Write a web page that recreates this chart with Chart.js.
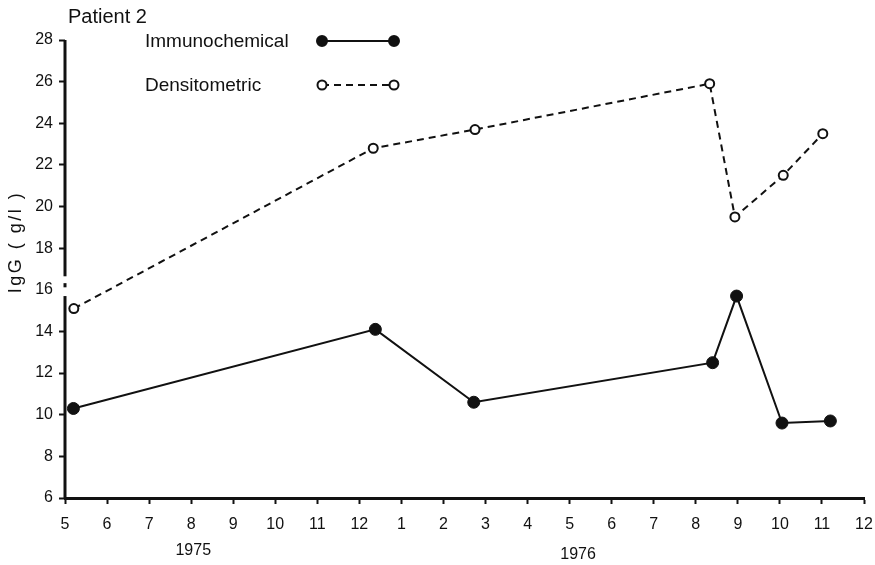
<!DOCTYPE html>
<html>
<head>
<meta charset="utf-8">
<script src="https://cdn.jsdelivr.net/npm/chart.js@4/dist/chart.umd.min.js"></script>
<style>
  body { margin: 0; background: #fff; }
</style>
</head>
<body>
<canvas id="myChart" width="875" height="565"></canvas>
<script>
// month ticks from May 1975 to Dec 1976
const monthLabels = ['5','6','7','8','9','10','11','12','1','2','3','4','5','6','7','8','9','10','11','12'];
const yearLabels = ['1975', '1976'];

// x = months after May 1975, y = IgG g/l
const immMonths = [0.2, 7.38, 9.72, 15.4, 15.97, 17.05, 18.2];
const immValues = [10.3, 14.1, 10.6, 12.5, 15.7, 9.6, 9.7];
const densMonths = [0.21, 7.33, 9.75, 15.33, 15.93, 17.08, 18.02];
const densValues = [15.1, 22.8, 23.7, 25.9, 19.5, 21.5, 23.5];

const ink = '#111';
const family = "'Liberation Sans', Arial, sans-serif";

const toPoints = (xs, ys) => xs.map((x, i) => ({ x: x, y: ys[i] }));

const decor = {
  id: 'decor',
  afterDraw(chart) {
    const ctx = chart.ctx;
    const x = chart.scales.x;
    const y = chart.scales.y;
    ctx.save();
    ctx.fillStyle = ink;
    ctx.strokeStyle = ink;

    // title
    ctx.font = '20px ' + family;
    ctx.textAlign = 'left';
    ctx.textBaseline = 'alphabetic';
    ctx.fillText('Patient 2', 68, 23);

    // y axis line with a break
    ctx.lineWidth = 3;
    ctx.lineCap = 'butt';
    const seg = (a, b) => {
      ctx.beginPath();
      ctx.moveTo(x.left, y.getPixelForValue(a));
      ctx.lineTo(x.left, y.getPixelForValue(b));
      ctx.stroke();
    };
    seg(28, 16.65);
    seg(16.32, 16.12);
    seg(15.7, 6);

    // y title
    ctx.save();
    ctx.translate(16, 242);
    ctx.rotate(-Math.PI / 2);
    ctx.font = '18px ' + family;
    ctx.letterSpacing = '2.5px';
    ctx.textAlign = 'center';
    ctx.textBaseline = 'middle';
    ctx.fillText('IgG ( g/l )', 0, 0);
    ctx.restore();

    // year labels under the month ticks
    ctx.font = '16px ' + family;
    ctx.textAlign = 'center';
    ctx.textBaseline = 'middle';
    const yearAt = [3.05, 12.2];
    const yearY = [551, 555];
    yearLabels.forEach((t, i) => ctx.fillText(t, x.getPixelForValue(yearAt[i]), yearY[i]));

    // legend
    chart.data.datasets.forEach((ds, i) => {
      const ly = i === 0 ? 41 : 85;
      ctx.font = '19px ' + family;
      ctx.textAlign = 'left';
      ctx.textBaseline = 'alphabetic';
      ctx.fillStyle = ink;
      ctx.fillText(ds.label, 145, ly + 6);
      ctx.lineWidth = 2;
      ctx.setLineDash(ds.borderDash || []);
      ctx.beginPath();
      ctx.moveTo(322, ly);
      ctx.lineTo(394, ly);
      ctx.stroke();
      ctx.setLineDash([]);
      [322, 394].forEach(px => {
        ctx.beginPath();
        ctx.arc(px, ly, i === 0 ? 5 : 4.5, 0, Math.PI * 2);
        ctx.fillStyle = ds.pointBackgroundColor;
        ctx.fill();
        ctx.stroke();
      });
    });
    ctx.restore();
  }
};

const ctx = document.getElementById('myChart');
const myChart = new Chart(ctx, {
  type: 'line',
  data: {
    datasets: [{
      label: 'Immunochemical',
      data: toPoints(immMonths, immValues),
      borderColor: ink,
      borderWidth: 2,
      pointRadius: 6,
      pointBackgroundColor: ink,
      pointBorderColor: ink,
      pointBorderWidth: 1,
      tension: 0
    }, {
      label: 'Densitometric',
      data: toPoints(densMonths, densValues),
      borderColor: ink,
      borderWidth: 2,
      borderDash: [7, 5],
      pointRadius: 4.5,
      pointBackgroundColor: '#fff',
      pointBorderColor: ink,
      pointBorderWidth: 2,
      tension: 0
    }]
  },
  options: {
    responsive: false,
    animation: false,
    devicePixelRatio: 1,
    layout: { padding: { left: 0, top: 40, right: 11, bottom: 0 } },
    scales: {
      x: {
        type: 'linear',
        min: 0,
        max: 19,
        afterFit: (scale) => {
          scale.height = 67;
          scale.paddingLeft = 0;
          scale.paddingRight = 0;
        },
        border: { display: true, color: ink, width: 3 },
        grid: { drawOnChartArea: false, drawTicks: true, tickLength: 6, tickWidth: 2, tickColor: ink },
        ticks: {
          stepSize: 1,
          autoSkip: false,
          maxRotation: 0,
          padding: 11,
          color: ink,
          font: { family: family, size: 16 },
          callback: (v) => monthLabels[v]
        }
      },
      y: {
        min: 6,
        max: 28,
        afterFit: (scale) => {
          scale.width = 65;
          scale.paddingTop = 0;
          scale.paddingBottom = 0;
        },
        border: { display: false },
        grid: {
          drawOnChartArea: false,
          drawTicks: true,
          tickLength: 6,
          tickWidth: 2,
          tickColor: (c) => (c.tick && c.tick.value === 16) ? 'rgba(0,0,0,0)' : ink
        },
        ticks: {
          stepSize: 2,
          padding: 6,
          color: ink,
          font: { family: family, size: 16 }
        }
      }
    },
    plugins: {
      legend: { display: false },
      tooltip: { enabled: false }
    }
  },
  plugins: [decor]
});
</script>
</body>
</html>
